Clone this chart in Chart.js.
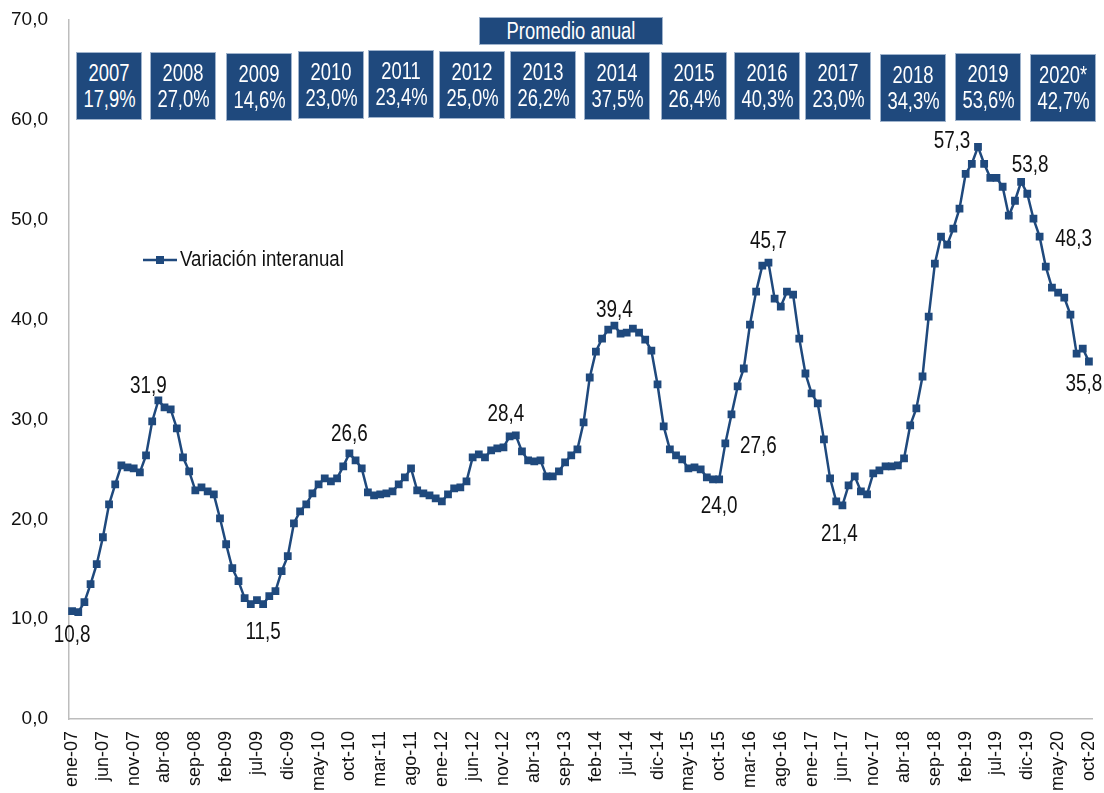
<!DOCTYPE html>
<html>
<head>
<meta charset="utf-8">
<script src="https://cdn.jsdelivr.net/npm/chart.js@4.4.0/dist/chart.umd.min.js"></script>
<style>
  body { margin: 0; background: #fff; }
  #wrap { position: relative; width: 1104px; height: 793px; }
  .box {
    position: absolute; background: #1f497d; color: #fff;
    border: 1px solid #9fb3cc; box-sizing: border-box;
    font-family: "Liberation Sans", Arial, sans-serif;
    font-size: 23px; line-height: 26px; text-align: center;
    display: flex; flex-direction: column; justify-content: center;
  }
  .box span { display: block; white-space: nowrap; transform: scaleX(0.8); }
</style>
</head>
<body>
<div id="wrap">
  <canvas id="myChart" width="1104" height="793"></canvas>
</div>
<script>
// meses: ene-07 .. oct-20
const meses = ['ene', 'feb', 'mar', 'abr', 'may', 'jun', 'jul', 'ago', 'sep', 'oct', 'nov', 'dic'];
const anioInicio = 2007;

// variación interanual (%)
const variacion = [
  10.8, 10.7, 11.7, 13.5, 15.5, 18.2, 21.5, 23.5, 25.4, 25.2, 25.1, 24.7,
  26.4, 29.8, 31.9, 31.2, 31.0, 29.1, 26.2, 24.8, 22.9, 23.2, 22.8, 22.5,
  20.1, 17.5, 15.1, 13.8, 12.1, 11.5, 11.9, 11.5, 12.3, 12.8, 14.8, 16.3,
  19.6, 20.8, 21.5, 22.6, 23.5, 24.1, 23.8, 24.1, 25.3, 26.6, 25.9, 25.1,
  22.7, 22.4, 22.5, 22.6, 22.8, 23.5, 24.2, 25.1, 22.9, 22.6, 22.4, 22.1,
  21.8, 22.5, 23.1, 23.2, 23.8, 26.2, 26.5, 26.2, 26.9, 27.1, 27.2, 28.3,
  28.4, 26.8, 25.9, 25.8, 25.9, 24.3, 24.3, 24.8, 25.7, 26.4, 27.0, 29.7,
  34.2, 36.8, 38.1, 39.0, 39.4, 38.6, 38.7, 39.1, 38.7, 38.0, 36.9, 33.5,
  29.3, 27.0, 26.4, 26.0, 25.1, 25.2, 25.0, 24.2, 24.0, 24.0, 27.6, 30.5,
  33.3, 35.1, 39.5, 42.8, 45.4, 45.7, 42.1, 41.3, 42.8, 42.5, 38.1, 34.6,
  32.6, 31.6, 28.0, 24.1, 21.8, 21.4, 23.4, 24.3, 22.8, 22.5, 24.6, 24.9,
  25.3, 25.3, 25.4, 26.1, 29.4, 31.1, 34.3, 40.3, 45.6, 48.3, 47.5, 49.1,
  51.1, 54.6, 55.6, 57.3, 55.6, 54.2, 54.2, 53.3, 50.4, 51.9, 53.8, 52.6,
  50.1, 48.3, 45.3, 43.2, 42.7, 42.2, 40.5, 36.6, 37.1, 35.8
];

// promedio anual
const anios = ['2007', '2008', '2009', '2010', '2011', '2012', '2013', '2014', '2015', '2016', '2017', '2018', '2019', '2020*'];
const promedios = ['17,9%', '27,0%', '14,6%', '23,0%', '23,4%', '25,0%', '26,2%', '37,5%', '26,4%', '40,3%', '23,0%', '34,3%', '53,6%', '42,7%'];

// puntos con etiqueta de valor
const etiquetados = [0, 14, 31, 45, 72, 88, 105, 106, 113, 125, 147, 154, 157, 165];

const etiquetas = variacion.map((v, i) =>
  meses[i % 12] + '-' + String((anioInicio + Math.floor(i / 12)) % 100).padStart(2, '0'));

const fmt = v => v.toFixed(1).replace('.', ',');
const FUENTE = '"Liberation Sans", Arial, sans-serif';
const AZUL = '#1f497d';

// cajas de promedio anual (posición en px)
const cajasX = [76, 150, 226, 298, 368, 439, 510, 584, 661, 734, 805, 880, 955, 1030];
const cajasY = [52, 52, 53, 51, 50, 51, 51, 52, 52, 52, 52, 54, 53, 54];
const wrap = document.getElementById('wrap');
const titulo = document.createElement('div');
titulo.className = 'box';
titulo.style.cssText = 'left:479px;top:17px;width:184px;height:28px;';
titulo.innerHTML = '<span>Promedio anual</span>';
wrap.appendChild(titulo);
anios.forEach((a, k) => {
  const d = document.createElement('div');
  d.className = 'box';
  d.style.left = cajasX[k] + 'px';
  d.style.top = cajasY[k] + 'px';
  d.style.width = '66px';
  d.style.height = '68px';
  d.innerHTML = '<span>' + a + '</span><span>' + promedios[k] + '</span>';
  wrap.appendChild(d);
});

// desplazamientos de las etiquetas respecto al punto
const desplaz = {
  0: [0, 25], 14: [-10, -14], 31: [0, 28], 45: [0, -19], 72: [-10, -21], 88: [0, -15],
  105: [0, 27], 106: [33, 3], 113: [0, -21], 125: [-3, 29], 147: [-26, -5],
  154: [9, -16], 157: [34, 3], 165: [-5, 23]
};

// texto estrecho (tipo Arial Narrow)
function textoEstrecho(ctx, txt, x, y, esc) {
  ctx.save();
  ctx.translate(x, y);
  ctx.scale(esc, 1);
  ctx.fillText(txt, 0, 0);
  ctx.restore();
}

const plugEtiquetas = {
  id: 'etiquetas',
  afterDatasetsDraw(chart) {
    const ctx = chart.ctx;
    const meta = chart.getDatasetMeta(0);
    ctx.save();
    ctx.font = '23px ' + FUENTE;
    ctx.fillStyle = '#111';
    ctx.textAlign = 'center';
    ctx.textBaseline = 'middle';
    etiquetados.forEach(i => {
      const p = meta.data[i];
      const d = desplaz[i];
      textoEstrecho(ctx, fmt(variacion[i]), p.x + d[0], p.y + d[1], 0.82);
    });
    // leyenda
    ctx.strokeStyle = AZUL;
    ctx.lineWidth = 2.5;
    ctx.beginPath();
    ctx.moveTo(143, 260);
    ctx.lineTo(177, 260);
    ctx.stroke();
    ctx.fillStyle = AZUL;
    ctx.fillRect(156, 256, 8, 8);
    ctx.fillStyle = '#111';
    ctx.textAlign = 'left';
    ctx.font = '22px ' + FUENTE;
    textoEstrecho(ctx, 'Variación interanual', 180, 260, 0.85);
    ctx.restore();
  }
};

const ctx = document.getElementById('myChart').getContext('2d');
const chart = new Chart(ctx, {
  type: 'line',
  data: {
    labels: etiquetas,
    datasets: [{
      label: 'Variación interanual',
      data: variacion,
      borderColor: AZUL,
      backgroundColor: AZUL,
      borderWidth: 2.5,
      pointStyle: 'rect',
      pointRadius: 5.5,
      pointBorderWidth: 0,
      tension: 0
    }]
  },
  options: {
    responsive: false,
    animation: false,
    layout: { padding: { top: 20, right: 12, left: 0, bottom: 0 } },
    plugins: { legend: { display: false }, tooltip: { enabled: false } },
    scales: {
      x: {
        offset: true,
        grid: { display: false, drawTicks: false },
        border: { display: true, color: '#bdbdbd', width: 1.5 },
        afterFit: s => { s.height = 74; s.paddingLeft = 0; s.paddingRight = 0; },
        ticks: {
          autoSkip: false,
          minRotation: 90,
          maxRotation: 90,
          padding: 12,
          color: '#111',
          font: { family: FUENTE, size: 18 },
          callback: function (val, i) { return i % 5 === 0 ? etiquetas[i] : ''; }
        }
      },
      y: {
        min: 0,
        max: 70,
        grid: { display: false, drawTicks: false },
        border: { display: true, color: '#bdbdbd', width: 1.5 },
        afterFit: s => { s.width = 69; s.paddingTop = 0; s.paddingBottom = 0; },
        ticks: {
          stepSize: 10,
          padding: 21,
          color: '#111',
          font: { family: FUENTE, size: 19 },
          callback: v => fmt(v)
        }
      }
    }
  },
  plugins: [plugEtiquetas]
});
</script>
</body>
</html>
